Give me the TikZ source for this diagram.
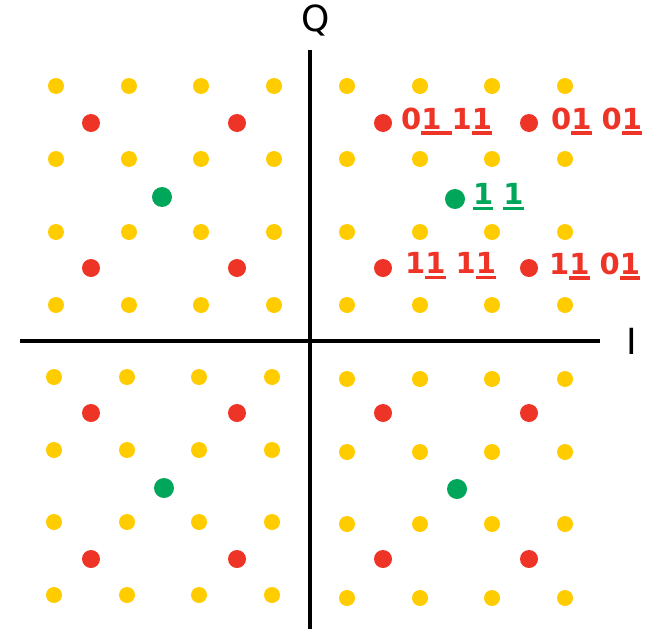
\documentclass[tikz,border=0pt]{standalone}
\usepackage{fontspec}
\setmainfont{DejaVu Sans}
\definecolor{dotyellow}{HTML}{FFCC00}
\definecolor{dotred}{HTML}{EE3327}
\definecolor{dotgreen}{HTML}{00A65A}
\newsavebox{\ulbox}
\newcommand{\ul}[1]{\sbox{\ulbox}{#1}\rlap{\rule[-5.5pt]{\wd\ulbox}{3.3pt}}\usebox{\ulbox}}
\newcommand{\labfont}{\fontsize{29pt}{30pt}\selectfont\bfseries}
\newcommand{\axfont}{\fontsize{36pt}{38pt}\selectfont}
\tikzset{
  ydot/.style={circle,fill=dotyellow,inner sep=0pt,minimum size=16pt},
  rdot/.style={circle,fill=dotred,inner sep=0pt,minimum size=18pt},
  gdot/.style={circle,fill=dotgreen,inner sep=0pt,minimum size=20pt},
  axis/.style={line width=3.6pt,black},
  rlab/.style={anchor=west,inner sep=0pt,text=dotred,font=\labfont},
  glab/.style={anchor=west,inner sep=0pt,text=dotgreen,font=\labfont},
  axlab/.style={inner sep=0pt,font=\axfont}}
\begin{document}
\begin{tikzpicture}[x=1pt,y=-1pt]
\useasboundingbox (0,0) rectangle (653,629);
% axes
\coordinate (vtop) at (310,50);
\coordinate (vbot) at (310,629);
\coordinate (hl) at (20,341);
\coordinate (hr) at (600,341);
\draw[axis] (vtop) -- (vbot);
\draw[axis] (hl) -- (hr);
\node[axlab] (Q) at (316,20) {Q};
\node[axlab] (I) at (632,341) {I};
% yellow dots
\foreach \x [count=\i] in {56,129,201,274}
  \foreach \y [count=\j] in {86,159,232,305}
    \node[ydot] (yul\i\j) at (\x,\y) {};
\foreach \x [count=\i] in {347,420,492,565}
  \foreach \y [count=\j] in {86,159,232,305}
    \node[ydot] (yur\i\j) at (\x,\y) {};
\foreach \x [count=\i] in {54,127,199,272}
  \foreach \y [count=\j] in {377,450,522,595}
    \node[ydot] (yll\i\j) at (\x,\y) {};
\foreach \x [count=\i] in {347,420,492,565}
  \foreach \y [count=\j] in {379,452,524,598}
    \node[ydot] (ylr\i\j) at (\x,\y) {};
% red dots
\foreach \x [count=\i] in {91,237}
  \foreach \y [count=\j] in {123,268,413,559}
    \node[rdot] (rl\i\j) at (\x,\y) {};
\foreach \x [count=\i] in {383,529}
  \foreach \y [count=\j] in {123,268,413,559}
    \node[rdot] (rr\i\j) at (\x,\y) {};
% green dots
\node[gdot] (gul) at (162,197) {};
\node[gdot] (gur) at (455,199) {};
\node[gdot] (gll) at (164,488) {};
\node[gdot] (glr) at (457,489) {};
% labels
\node[rlab] (l1) at (401,121) {0\ul{1 }1\ul{1}};
\node[rlab] (l2) at (551,121) {0\ul{1} 0\ul{1}};
\node[glab] (l3) at (473,197) {\ul{1} \ul{1}};
\node[rlab] (l4) at (405,266) {1\ul{1} 1\ul{1}};
\node[rlab] (l5) at (549,266) {1\ul{1} 0\ul{1}};
\end{tikzpicture}
\end{document}
